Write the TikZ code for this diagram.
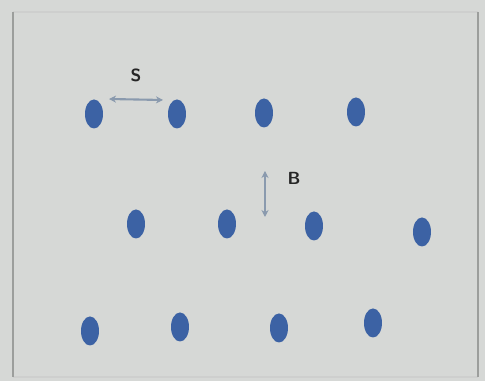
\documentclass[tikz,border=0pt]{standalone}
\usepackage{tikz}
\usetikzlibrary{shapes.geometric,arrows.meta,positioning}
\definecolor{paper}{HTML}{D6D8D6}
\definecolor{framegray}{HTML}{9C9E9C}
\definecolor{dotblue}{HTML}{3C62A4}
\definecolor{arrowgray}{HTML}{8A9AAE}

\begin{document}
\begin{tikzpicture}[
    x=0.02cm, y=-0.02cm,
    atom/.style={ellipse, fill=dotblue, inner sep=0pt, minimum width=0.36cm, minimum height=0.58cm},
    gap/.style={draw=arrowgray, line width=1.2pt, {Stealth[length=4pt,width=4pt,fill=dotblue!80!black]}-{Stealth[length=4pt,width=4pt,fill=dotblue!80!black]}},
    tag/.style={font=\sffamily\bfseries, text=black!85}
]
    \fill[paper] (0,0) rectangle (485,381);
    \useasboundingbox (0,0) rectangle (485,381);
    \draw[framegray!50, line width=0.6pt] (13,12) -- (478,12);
    \draw[framegray!50, line width=0.6pt] (13,377) -- (478,377);
    \draw[framegray, line width=1.2pt] (13,12) -- (13,377);
    \draw[framegray, line width=1.2pt] (478,12) -- (478,377);

    % top row
    \node[atom] (a1) at (94,114) {};
    \node[atom] (a2) at (177,114) {};
    \node[atom] (a3) at (264,113) {};
    \node[atom] (a4) at (356,112) {};
    % middle row
    \node[atom] (b1) at (136,224) {};
    \node[atom] (b2) at (227,224) {};
    \node[atom] (b3) at (314,226) {};
    \node[atom] (b4) at (422,232) {};
    % bottom row
    \node[atom] (c1) at (90,331) {};
    \node[atom] (c2) at (180,327) {};
    \node[atom] (c3) at (279,328) {};
    \node[atom] (c4) at (373,323) {};

    \coordinate (sl) at (109,99);
    \coordinate (sr) at (163,100);
    \coordinate (bt) at (265,171);
    \coordinate (bb) at (265,217);

    \draw[gap] (sl) -- node[tag, above=6pt] {S} (sr);
    \draw[gap] (bt) -- node[tag, right=9pt, yshift=9pt] {B} (bb);
\end{tikzpicture}
\end{document}
